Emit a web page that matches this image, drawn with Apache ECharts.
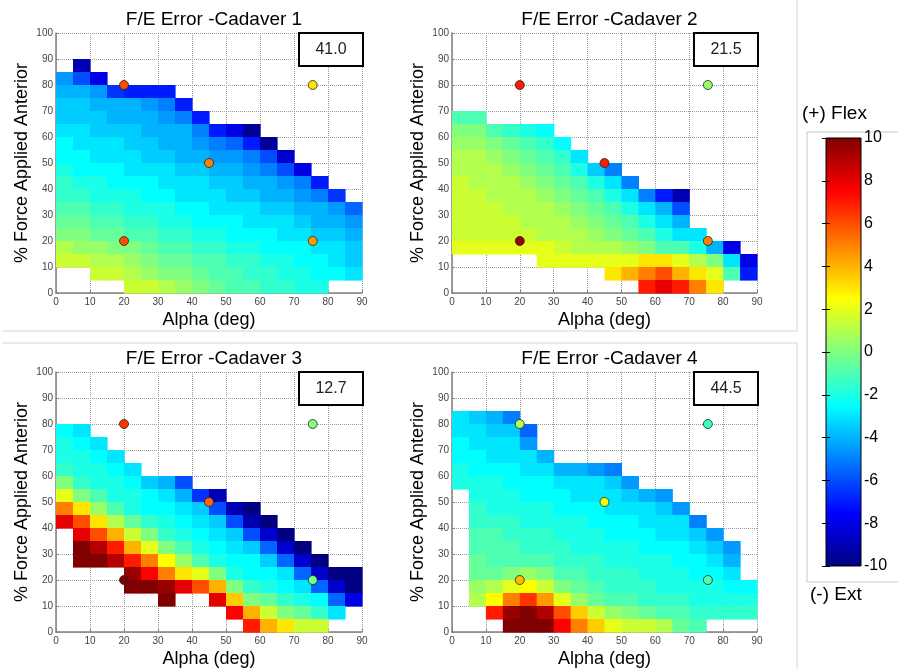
<!DOCTYPE html>
<html>
<head>
<meta charset="utf-8">
<script src="https://cdn.jsdelivr.net/npm/echarts@6/dist/echarts.min.js"></script>
<style>
html, body { margin: 0; padding: 0; background: #fff; }
#chart { width: 898px; height: 669px; }
</style>
</head>
<body>
<div id="chart"></div>
<script>
// size of one map cell: 5 deg of alpha x 5 % of force
var STEP = 5;
var _ = null;

// error maps, rows go from force 95-100 (top) down to 0-5,
// columns from alpha 0-5 to 85-90
var cav1 = [
  [_,_,_,_,_,_,_,_,_,_,_,_,_,_,_,_,_,_],
  [_,_,_,_,_,_,_,_,_,_,_,_,_,_,_,_,_,_],
  [_,-9,_,_,_,_,_,_,_,_,_,_,_,_,_,_,_,_],
  [-4.5,-6,-8,_,_,_,_,_,_,_,_,_,_,_,_,_,_,_],
  [-4,-4,-4.5,-6.5,-7,-7,-7,_,_,_,_,_,_,_,_,_,_,_],
  [-3.5,-3.5,-4,-4,-4,-4.5,-5,-7,_,_,_,_,_,_,_,_,_,_],
  [-3.5,-3.5,-3.5,-4,-4,-4,-4.5,-5,-7,_,_,_,_,_,_,_,_,_],
  [-3,-3,-3.5,-3.5,-3.5,-4,-4,-4,-5,-7,-8,-9.5,_,_,_,_,_,_],
  [-2.5,-3,-3,-3,-3.5,-3.5,-4,-4,-4.5,-5,-5.5,-7,-9.5,_,_,_,_,_],
  [-2.5,-2.5,-3,-3,-3,-3.5,-3.5,-4,-4,-4.5,-4.5,-5,-6,-8.5,_,_,_,_],
  [-2,-2.5,-2.5,-2.5,-3,-3,-3,-3.5,-3.5,-4,-4,-4.5,-5,-6,-8,_,_,_],
  [-1.5,-2,-2,-2.5,-2.5,-2.5,-3,-3,-3,-3.5,-3.5,-4,-4,-4.5,-5,-7,_,_],
  [-1.5,-1.5,-2,-2,-2,-2.5,-2.5,-3,-3,-3,-3.5,-3.5,-4,-4,-4.5,-5,-6.5,_],
  [-1,-1,-1.5,-1.5,-2,-2,-2,-2.5,-2.5,-3,-3,-3,-3.5,-3.5,-4,-4,-4.5,-5.5],
  [-0.5,-0.5,-1,-1,-1.5,-1.5,-2,-2,-2.5,-2.5,-2.5,-3,-3,-3,-3.5,-4,-4,-4.5],
  [0,0,-0.5,-0.5,-1,-1,-1.5,-1.5,-2,-2,-2.5,-2.5,-2.5,-3,-3,-3.5,-3.5,-4],
  [1,0.5,0.5,0,0,-0.5,-1,-1,-1.5,-1.5,-2,-2,-2.5,-2.5,-2.5,-3,-3,-3.5],
  [1.5,1.5,1,1,0.5,0,-0.5,-0.5,-1,-1,-1.5,-1.5,-2,-2,-2.5,-2.5,-3,-3.5],
  [_,_,1.5,1.5,1,0.5,0,0,-0.5,-1,-1,-1.5,-1.5,-2,-2,-2.5,-2.5,-3],
  [_,_,_,_,1.5,1.5,1,0.5,0,-0.5,-1,-1,-1.5,-1.5,-2,-2,_,_]
];
var cav2 = [
  [_,_,_,_,_,_,_,_,_,_,_,_,_,_,_,_,_,_],
  [_,_,_,_,_,_,_,_,_,_,_,_,_,_,_,_,_,_],
  [_,_,_,_,_,_,_,_,_,_,_,_,_,_,_,_,_,_],
  [_,_,_,_,_,_,_,_,_,_,_,_,_,_,_,_,_,_],
  [_,_,_,_,_,_,_,_,_,_,_,_,_,_,_,_,_,_],
  [_,_,_,_,_,_,_,_,_,_,_,_,_,_,_,_,_,_],
  [-1,-1,_,_,_,_,_,_,_,_,_,_,_,_,_,_,_,_],
  [0,0,-1,-1.5,-2,-2.5,_,_,_,_,_,_,_,_,_,_,_,_],
  [0.5,0.5,0,-0.5,-1,-1.5,-2.5,_,_,_,_,_,_,_,_,_,_,_],
  [1,1,0.5,0,-0.5,-1,-1.5,-3,_,_,_,_,_,_,_,_,_,_],
  [1,1,1,0.5,0,-0.5,-1,-2,-3.5,-5,_,_,_,_,_,_,_,_],
  [1.5,1,1,1,0.5,0,-0.5,-1,-2,-3,-5,_,_,_,_,_,_,_],
  [1.5,1.5,1,1,1,0.5,0,-0.5,-1,-2,-3,-5,-7,-9,_,_,_,_],
  [1.5,1.5,1.5,1,1,1,0.5,0,-0.5,-1,-2,-3,-4,-6,_,_,_,_],
  [1.5,1.5,1.5,1.5,1,1,1,0.5,0,-0.5,-1,-2,-3,-4,_,_,_,_],
  [1.5,1.5,1.5,1.5,1.5,1,1,1,0.5,0,-0.5,-1,-2,-3,-3,_,_,_],
  [2,2,2,2,2,2,1.5,1,1,1,0.5,0,-1,-1,-2,-4,-8,_],
  [_,_,_,_,_,2,2,2,2,2,2,3,3,2,1,0,-3,-8],
  [_,_,_,_,_,_,_,_,_,3,4,5,6,4,3,2,-1,-7],
  [_,_,_,_,_,_,_,_,_,_,_,7,8,7,5,3,_,_]
];
var cav3 = [
  [_,_,_,_,_,_,_,_,_,_,_,_,_,_,_,_,_,_],
  [_,_,_,_,_,_,_,_,_,_,_,_,_,_,_,_,_,_],
  [_,_,_,_,_,_,_,_,_,_,_,_,_,_,_,_,_,_],
  [_,_,_,_,_,_,_,_,_,_,_,_,_,_,_,_,_,_],
  [-2.5,-3,_,_,_,_,_,_,_,_,_,_,_,_,_,_,_,_],
  [-2,-2.5,-3,_,_,_,_,_,_,_,_,_,_,_,_,_,_,_],
  [-2,-2,-2.5,-3,_,_,_,_,_,_,_,_,_,_,_,_,_,_],
  [-1.5,-2,-2,-2.5,-3,_,_,_,_,_,_,_,_,_,_,_,_,_],
  [0,-1.5,-2,-2,-2.5,-3.5,-4,-6,_,_,_,_,_,_,_,_,_,_],
  [2,0,-1,-2,-2,-2.5,-3,-4,-6.5,-9,_,_,_,_,_,_,_,_],
  [5,3,0.5,-1,-2,-2.5,-2.5,-3,-3.5,-6,-9,-10,_,_,_,_,_,_],
  [8,6,3,1,-0.5,-1.5,-2,-2.5,-3,-3.5,-6,-9,-10,_,_,_,_,_],
  [_,8,6,4,1.5,0,-1.5,-2,-2.5,-3,-3.5,-6,-8.5,-10,_,_,_,_],
  [_,10,9,7,4,2,0,-1,-2,-2.5,-3,-3.5,-5.5,-8.5,-10,_,_,_],
  [_,10,10,9,7,5,2.5,0.5,-1,-2,-2.5,-2.5,-3.5,-5.5,-8.5,-10,_,_],
  [_,_,_,_,9.5,7.5,5,3,2,0,-2,-2.5,-2.5,-3,-5.5,-8.5,-10,-10],
  [_,_,_,_,10,10,9.5,8,6,4,0,-1.5,-2,-2.5,-3,-5.5,-8.5,-10],
  [_,_,_,_,_,_,10,_,_,8,3.5,0,-0.5,-1.5,-2,-2.5,-5.5,-8],
  [_,_,_,_,_,_,_,_,_,_,7.5,4,1.5,0,-0.5,-1.5,-3,_],
  [_,_,_,_,_,_,_,_,_,_,_,7,4,3,1.5,1.5,_,_]
];
var cav4 = [
  [_,_,_,_,_,_,_,_,_,_,_,_,_,_,_,_,_,_],
  [_,_,_,_,_,_,_,_,_,_,_,_,_,_,_,_,_,_],
  [_,_,_,_,_,_,_,_,_,_,_,_,_,_,_,_,_,_],
  [-3,-3.5,-4,-5,_,_,_,_,_,_,_,_,_,_,_,_,_,_],
  [-3,-3,-3.5,-3.5,-5.5,_,_,_,_,_,_,_,_,_,_,_,_,_],
  [-2.5,-3,-3,-3,-4.5,_,_,_,_,_,_,_,_,_,_,_,_,_],
  [-2.5,-2.5,-3,-3,-3,-4,_,_,_,_,_,_,_,_,_,_,_,_],
  [-2,-2.5,-2.5,-2.5,-3,-3,-4,-4,-4.5,-5,_,_,_,_,_,_,_,_],
  [-2,-2,-2,-2.5,-2.5,-2.5,-3,-3,-3,-3.5,-4.5,_,_,_,_,_,_,_],
  [_,-2,-2,-2,-2.5,-2.5,-2.5,-3,-3,-3,-3.5,-4,-4.5,_,_,_,_,_],
  [_,-1.5,-2,-2,-2,-2,-2.5,-2.5,-2.5,-3,-3,-3,-3.5,-4.5,_,_,_,_],
  [_,-1.5,-1.5,-1.5,-2,-2,-2,-2,-2.5,-2.5,-2.5,-3,-3,-3,-5,_,_,_],
  [_,-1,-1,-1.5,-1.5,-1.5,-2,-2,-2,-2.5,-2.5,-2.5,-3,-3,-3.5,-4.5,_,_],
  [_,-1,-1,-1,-1.5,-1.5,-1.5,-2,-2,-2,-2,-2.5,-2.5,-2.5,-3,-3.5,-4.5,_],
  [_,-0.5,-1,-1,-1,-1,-1.5,-1.5,-1.5,-2,-2,-2,-2,-2.5,-2.5,-3,-4,_],
  [_,-0.5,-0.5,0,0.5,0,-1,-1,-1.5,-1.5,-1.5,-2,-2,-2,-2.5,-2.5,-3,_],
  [_,0.5,1,2,2.5,1.5,0,-0.5,-1,-1.5,-1.5,-1.5,-2,-2,-2,-2,-2.5,-2.5],
  [_,1,2.5,5,6.5,4.5,2,0.5,-0.5,-1,-1,-1.5,-1.5,-1.5,-2,-2,-2,-2],
  [_,_,7,9.5,10,9,6,3.5,1.5,0.5,0,-0.5,-1,-1,-1.5,-1.5,-1.5,-1.5],
  [_,_,_,10,10,10,7.5,5,3.5,2,1.5,1.5,1,-0.5,-1,_,_,_]
];

// measured test points (alpha, % force) and their error
var ptAlpha = [20, 75.5, 45, 20, 75.5];
var ptForce = [80, 80, 50, 20, 20];
var ptCav1 = [6, 3, 5, 6, 4.5];
var ptCav2 = [7, 0.5, 7, 9.5, 5];
var ptCav3 = [6.5, 0, 5.5, 10, -0.2];
var ptCav4 = [1, -1.3, 2.3, 3.8, -1];

var titles = ['F/E Error -Cadaver 1', 'F/E Error -Cadaver 2', 'F/E Error -Cadaver 3', 'F/E Error -Cadaver 4'];
var boxText = ['41.0', '21.5', '12.7', '44.5'];

var maps = [cav1, cav2, cav3, cav4];
var pts = [ptCav1, ptCav2, ptCav3, ptCav4];

var JET = ['#000080', '#0000ff', '#0080ff', '#00ffff', '#80ff80', '#ffff00', '#ff8000', '#ff0000', '#800000'];
var FONT = "'Liberation Sans', Arial, sans-serif";

// plot areas in px
var pos = [
  { left: 56, top: 33, width: 306, height: 260 },
  { left: 452, top: 33, width: 305, height: 260 },
  { left: 56, top: 372, width: 306, height: 260 },
  { left: 452, top: 372, width: 305, height: 260 }
];

function cells(grid) {
  var out = [];
  grid.forEach(function (row, r) {
    var y0 = (grid.length - 1 - r) * STEP;
    row.forEach(function (v, c) {
      if (v !== null) out.push([c * STEP, y0, v]);
    });
  });
  return out;
}

function renderCell(params, api) {
  var a = api.coord([api.value(0), api.value(1) + STEP]);
  var b = api.coord([api.value(0) + STEP, api.value(1)]);
  return {
    type: 'rect',
    shape: { x: a[0], y: a[1], width: b[0] - a[0] + 0.6, height: b[1] - a[1] + 0.6 },
    style: { fill: api.visual('color') }
  };
}

var grids = [], xAxes = [], yAxes = [], series = [], titleList = [], graphics = [];

pos.forEach(function (p, i) {
  grids.push({ left: p.left, top: p.top, width: p.width, height: p.height });
  xAxes.push({
    gridIndex: i, type: 'value', min: 0, max: 90, interval: 10,
    name: 'Alpha (deg)', nameLocation: 'middle', nameGap: 18,
    nameTextStyle: { fontSize: 18, color: '#000', fontFamily: FONT },
    axisLine: { lineStyle: { color: '#808080', width: 1.5 } },
    axisTick: { inside: true, length: 3, lineStyle: { color: '#808080' } },
    axisLabel: { fontSize: 10, color: '#444', margin: 4, fontFamily: FONT },
    splitLine: { lineStyle: { type: 'dotted', color: '#9a9a9a' } }
  });
  yAxes.push({
    gridIndex: i, type: 'value', min: 0, max: 100, interval: 10,
    name: '% Force Applied Anterior', nameLocation: 'middle', nameGap: 25,
    nameTextStyle: { fontSize: 18, color: '#000', fontFamily: FONT },
    axisLine: { show: true, lineStyle: { color: '#808080', width: 1.5 } },
    axisTick: { show: true, inside: true, length: 3, lineStyle: { color: '#808080' } },
    axisLabel: { fontSize: 10, color: '#444', margin: 3, fontFamily: FONT },
    splitLine: { lineStyle: { type: 'dotted', color: '#9a9a9a' } }
  });
  series.push({
    type: 'custom', xAxisIndex: i, yAxisIndex: i,
    renderItem: renderCell, encode: { x: 0, y: 1 },
    data: cells(maps[i]), z: 1
  });
  series.push({
    type: 'scatter', xAxisIndex: i, yAxisIndex: i, symbolSize: 9,
    itemStyle: { borderColor: '#222', borderWidth: 0.8, opacity: 1 },
    data: ptAlpha.map(function (a, k) { return [a, ptForce[k], pts[i][k]]; }), z: 5
  });
  titleList.push({
    text: titles[i], left: p.left + p.width / 2, top: p.top - 28, textAlign: 'center',
    textStyle: { fontSize: 19, fontWeight: 'normal', color: '#000', fontFamily: FONT }
  });
  var bx = p.left + p.width - 63;
  graphics.push({
    type: 'rect', shape: { x: bx, y: p.top, width: 64, height: 33 },
    style: { fill: '#fff', stroke: '#000', lineWidth: 2 }, z: 100
  });
  graphics.push({
    type: 'text', x: bx + 32, y: p.top + 17,
    style: { text: boxText[i], fill: '#222', font: '16px ' + FONT, align: 'center', verticalAlign: 'middle' }, z: 101
  });
});

// colour bar
grids.push({ left: 826, top: 138, width: 35, height: 428 });
xAxes.push({ gridIndex: 4, type: 'value', min: 0, max: 1, show: false });
yAxes.push({
  gridIndex: 4, type: 'value', min: -10, max: 10, interval: 2, position: 'right', z: 10,
  axisLine: { show: false },
  axisTick: { inside: true, length: 4, lineStyle: { color: '#000' } },
  axisLabel: { fontSize: 16, color: '#000', margin: 3, fontFamily: FONT },
  splitLine: { show: false }
});
yAxes.push({
  gridIndex: 4, type: 'value', min: -10, max: 10, interval: 2, position: 'left', z: 10,
  axisLine: { show: false },
  axisTick: { inside: true, length: 4, lineStyle: { color: '#000' } },
  axisLabel: { show: false }, splitLine: { show: false }
});
var barStops = JET.slice().reverse().map(function (c, k, arr) {
  return { offset: k / (arr.length - 1), color: c };
});
series.push({
  type: 'custom', xAxisIndex: 4, yAxisIndex: 4, z: 0,
  encode: { x: 0, y: [1, 2] },
  data: [[0, -10, 10]],
  renderItem: function (params, api) {
    var a = api.coord([0, api.value(2)]);
    var b = api.coord([1, api.value(1)]);
    return {
      type: 'rect',
      shape: { x: a[0], y: a[1], width: b[0] - a[0], height: b[1] - a[1] },
      style: { fill: new echarts.graphic.LinearGradient(0, 0, 0, 1, barStops), stroke: '#000', lineWidth: 1 }
    };
  }
});

// frames and colour bar labels
var sep = '#d6d6d6';
graphics.push(
  { type: 'line', shape: { x1: 3, y1: 331, x2: 797, y2: 331 }, style: { stroke: sep, lineWidth: 1 } },
  { type: 'line', shape: { x1: 3, y1: 343, x2: 797, y2: 343 }, style: { stroke: sep, lineWidth: 1 } },
  { type: 'line', shape: { x1: 797, y1: 0, x2: 797, y2: 331 }, style: { stroke: sep, lineWidth: 1 } },
  { type: 'line', shape: { x1: 797, y1: 343, x2: 797, y2: 669 }, style: { stroke: sep, lineWidth: 1 } },
  { type: 'rect', shape: { x: 807, y: 132, width: 100, height: 450 }, style: { fill: 'none', stroke: '#c8c8c8', lineWidth: 1 } },
  { type: 'text', x: 802, y: 114, style: { text: '(+) Flex', fill: '#000', font: '19px ' + FONT, verticalAlign: 'middle' } },
  { type: 'text', x: 810, y: 595, style: { text: '(-) Ext', fill: '#000', font: '19px ' + FONT, verticalAlign: 'middle' } }
);

var chart = echarts.init(document.getElementById('chart'));
chart.setOption({
  animation: false,
  backgroundColor: '#fff',
  title: titleList,
  grid: grids,
  xAxis: xAxes,
  yAxis: yAxes,
  visualMap: {
    type: 'continuous', show: false, min: -10, max: 10, dimension: 2,
    seriesIndex: [0, 1, 2, 3, 4, 5, 6, 7],
    inRange: { color: JET }
  },
  series: series,
  graphic: graphics
});
</script>
</body>
</html>
